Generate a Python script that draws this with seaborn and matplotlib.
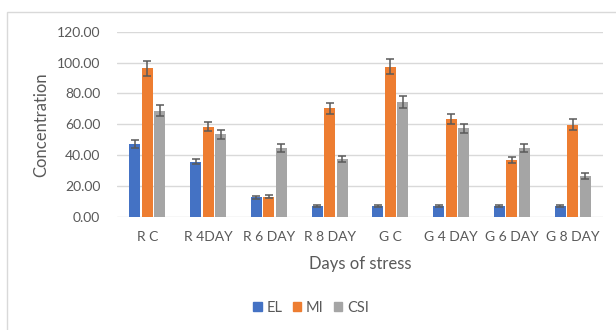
import matplotlib
matplotlib.use("Agg")
import matplotlib.pyplot as plt
from matplotlib.patches import Rectangle
import seaborn as sns
import pandas as pd

categories = ["R C", "R 4DAY", "R 6 DAY", "R 8 DAY", "G C", "G 4 DAY", "G 6 DAY", "G 8 DAY"]
series_names = ["EL", "MI", "CSI"]
el_values = [47.2, 35.7, 12.6, 6.9, 6.9, 6.9, 6.9, 6.9]
mi_values = [96.3, 58.4, 13.0, 70.3, 97.3, 63.4, 36.8, 59.7]
csi_values = [68.8, 53.4, 44.4, 37.4, 74.2, 57.3, 44.8, 26.4]
el_err = [2.4, 1.7, 0.8, 0.5, 0.5, 0.5, 0.5, 0.5]
mi_err = [4.9, 2.9, 0.8, 3.7, 4.9, 3.1, 1.9, 3.5]
csi_err = [3.6, 2.7, 2.5, 2.0, 3.8, 3.0, 2.6, 1.7]
y_ticks = [0, 20, 40, 60, 80, 100, 120]
colors = ["#4472C4", "#ED7D31", "#A5A5A5"]

values = [el_values, mi_values, csi_values]
errors = [el_err, mi_err, csi_err]
rows = []
for s, vals in zip(series_names, values):
    for c, v in zip(categories, vals):
        rows.append({"Days of stress": c, "Concentration": v, "Series": s})
df = pd.DataFrame(rows)

sns.set_theme(style="white")
plt.rcParams["font.family"] = ["Lato", "DejaVu Sans"]
text_color = "#595959"

W, H = 616, 330
fig = plt.figure(figsize=(W / 100, H / 100), dpi=100)
left, right, top, bottom = 117, 603, 31.7, 216.7
ax = fig.add_axes([left / W, 1 - bottom / H, (right - left) / W, (bottom - top) / H])

sns.barplot(data=df, x="Days of stress", y="Concentration", hue="Series",
            order=categories, hue_order=series_names, palette=colors,
            errorbar=None, width=0.62, gap=0.12, saturation=1, ax=ax,
            linewidth=0, zorder=3)

for cont, errs in zip(ax.containers, errors):
    xs = [p.get_x() + p.get_width() / 2 for p in cont]
    hs = [p.get_height() for p in cont]
    ax.errorbar(xs, hs, yerr=errs, fmt="none", ecolor="#5a5a5a",
                elinewidth=1.1, capsize=3, capthick=1.1, zorder=4)

ax.set_ylim(0, 120)
ax.set_xlim(-0.5, len(categories) - 0.5)
ax.set_yticks(y_ticks)
ax.set_yticklabels([f"{t:.2f}" for t in y_ticks])
ax.yaxis.grid(True, color="#D9D9D9", linewidth=1.0, zorder=0)
ax.set_axisbelow(True)
for sp in ax.spines.values():
    sp.set_visible(False)
ax.tick_params(axis="both", length=0, labelsize=10, colors=text_color)
ax.tick_params(axis="y", pad=12)
ax.tick_params(axis="x", pad=10)

ax.set_xlabel("Days of stress", fontsize=12, color=text_color)
ax.set_ylabel("Concentration", fontsize=12, color=text_color)
ax.xaxis.set_label_coords(0.5, (bottom - 256) / (bottom - top))
ax.yaxis.set_label_coords((49 - left) / (right - left), 0.5)

ax.legend_.remove()
handles = [Rectangle((0, 0), 1, 1, color=c) for c in colors]
fig.legend(handles, series_names, loc="center", bbox_to_anchor=(311 / W, 1 - 308 / H),
           ncol=3, frameon=False, fontsize=10.5, handlelength=0.6, handleheight=0.6,
           handletextpad=0.3, columnspacing=0.7, labelcolor=text_color)

fig.patches.append(Rectangle((7 / W, -0.1), 1.2, 1 - 12 / H + 0.1, transform=fig.transFigure,
                             fill=False, edgecolor="#D9D9D9", linewidth=1.0))

fig.savefig("out.png", dpi=100, facecolor="white")
